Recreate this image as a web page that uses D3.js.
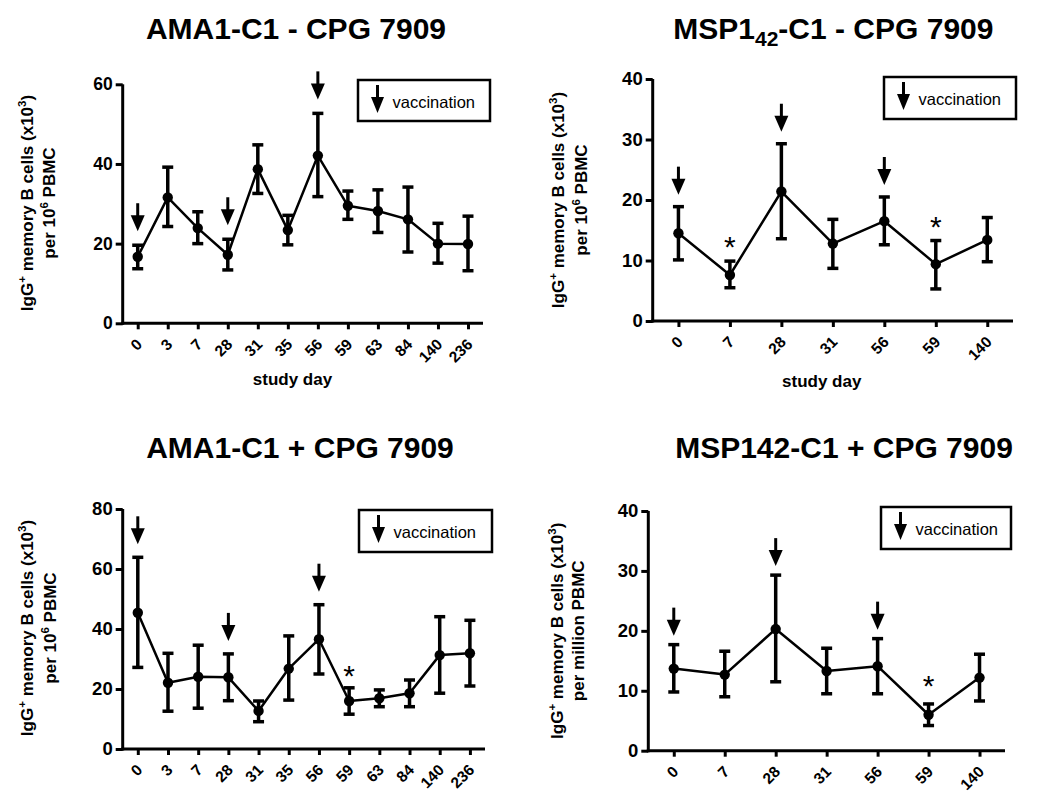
<!DOCTYPE html>
<html>
<head>
<meta charset="utf-8">
<script src="https://cdn.jsdelivr.net/npm/d3@7"></script>
<style>
  html, body { margin: 0; padding: 0; background: #fff; }
  svg { display: block; }
  text { font-family: "Liberation Sans", Arial, sans-serif; fill: #000; }
</style>
</head>
<body>
<svg id="chart" width="1050" height="799"></svg>
<script>
// ---------------- DATA ----------------
const daysLong  = ["0","3","7","28","31","35","56","59","63","84","140","236"];
const daysShort = ["0","7","28","31","56","59","140"];

// AMA1-C1 - CPG 7909
const amaMinusMean  = [16.7, 31.6, 23.9, 17.2, 38.7, 23.4, 42.1, 29.5, 28.2, 26.1, 20.0, 19.9];
const amaMinusUpper = [19.6, 39.2, 28.0, 21.1, 44.8, 27.1, 52.7, 33.2, 33.5, 34.2, 25.1, 26.9];
const amaMinusLower = [13.7, 24.3, 20.0, 13.4, 32.6, 19.7, 31.8, 26.1, 22.8, 17.9, 15.1, 13.2];
const amaMinusVacc  = ["0","28","56"];
const amaMinusStars = [];

// MSP1-42-C1 - CPG 7909
const mspMinusMean  = [14.5,  7.6, 21.4, 12.8, 16.5,  9.4, 13.4];
const mspMinusUpper = [18.9,  9.9, 29.3, 16.8, 20.5, 13.3, 17.1];
const mspMinusLower = [10.1,  5.5, 13.6,  8.7, 12.6,  5.3,  9.8];
const mspMinusVacc  = ["0","28","56"];
const mspMinusStars = ["7","59"];

// AMA1-C1 + CPG 7909
const amaPlusMean  = [45.4, 22.1, 24.1, 23.9, 12.7, 26.8, 36.6, 16.0, 16.9, 18.6, 31.3, 31.9];
const amaPlusUpper = [63.9, 31.9, 34.6, 31.7, 16.0, 37.7, 48.1, 20.4, 19.7, 23.0, 44.1, 42.9];
const amaPlusLower = [27.2, 12.6, 13.6, 16.1,  9.1, 16.3, 25.0, 11.6, 14.1, 14.1, 18.6, 21.0];
const amaPlusVacc  = ["0","28","56"];
const amaPlusStars = ["59"];

// MSP142-C1 + CPG 7909
const mspPlusMean  = [13.7, 12.7, 20.3, 13.3, 14.1,  6.0, 12.2];
const mspPlusUpper = [17.7, 16.6, 29.3, 17.1, 18.7,  7.8, 16.1];
const mspPlusLower = [ 9.8,  9.0, 11.5,  9.5,  9.5,  4.2,  8.3];
const mspPlusVacc  = ["0","28","56"];
const mspPlusStars = ["59"];

const yTicksA = [0, 20, 40, 60];
const yTicksB = [0, 10, 20, 30, 40];
const yTicksC = [0, 20, 40, 60, 80];
const yTicksD = [0, 10, 20, 30, 40];

const legendLabel = "vaccination";
const xAxisTitle = "study day";

// ---------------- PANELS (layout) ----------------
const panels = [
  { title: [["AMA1-C1 - CPG 7909", null]], titleX: 296, titleY: 38.5, titleAnchor: "middle",
    days: daysLong, mean: amaMinusMean, upper: amaMinusUpper, lower: amaMinusLower,
    vacc: amaMinusVacc, stars: amaMinusStars, yTicks: yTicksA,
    x0: 122.7, x1: 483, yBottom: 323.3, yTop: 84.3,
    yTitle2: "PBMC", yTitle2Pre: "per 10", yTitle2Sup: "6",
    yTitleCy: 203, yTitleB1: 33, yTitleB2: 55, yFont: 17.5,
    legend: { x: 358, y: 80, w: 132, h: 41 },
    arrowGap: 14, starGap: 21, xTitle: { x: 292.5, y: 385 } },
  { title: [["MSP1", null], ["42", "sub"], ["-C1 - CPG 7909", "back"]], titleX: 673.3, titleY: 38.5, titleAnchor: "start",
    days: daysShort, mean: mspMinusMean, upper: mspMinusUpper, lower: mspMinusLower,
    vacc: mspMinusVacc, stars: mspMinusStars, yTicks: yTicksB,
    x0: 652.7, x1: 1013, yBottom: 321, yTop: 79,
    yTitle2: "PBMC", yTitle2Pre: "per 10", yTitle2Sup: "6",
    yTitleCy: 200, yTitleB1: 563.5, yTitleB2: 587, yFont: 18.5,
    legend: { x: 884, y: 77, w: 132, h: 42 },
    arrowGap: 12, starGap: 21, xTitle: { x: 821.7, y: 386.7 } },
  { title: [["AMA1-C1 + CPG 7909", null]], titleX: 300, titleY: 458.3, titleAnchor: "middle",
    days: daysLong, mean: amaPlusMean, upper: amaPlusUpper, lower: amaPlusLower,
    vacc: amaPlusVacc, stars: amaPlusStars, yTicks: yTicksC,
    x0: 122.7, x1: 485, yBottom: 749, yTop: 509,
    yTitle2: "PBMC", yTitle2Pre: "per 10", yTitle2Sup: "6",
    yTitleCy: 628, yTitleB1: 32.5, yTitleB2: 56, yFont: 18.5,
    legend: { x: 359, y: 510, w: 133, h: 42 },
    arrowGap: 13, starGap: 19, xTitle: null },
  { title: [["MSP142-C1 + CPG 7909", null]], titleX: 844, titleY: 458.3, titleAnchor: "middle",
    days: daysShort, mean: mspPlusMean, upper: mspPlusUpper, lower: mspPlusLower,
    vacc: mspPlusVacc, stars: mspPlusStars, yTicks: yTicksD,
    x0: 648.3, x1: 1005, yBottom: 750.7, yTop: 511,
    yTitle2: "per million PBMC", yTitle2Pre: null, yTitle2Sup: null,
    yTitleCy: 630.8, yTitleB1: 563, yTitleB2: 583.5, yFont: 18.5,
    legend: { x: 881, y: 507, w: 130, h: 42 },
    arrowGap: 9, starGap: 25, xTitle: null }
];

const svg = d3.select("#chart");
svg.append("rect").attr("width", 1050).attr("height", 799).attr("fill", "#fff");

function drawArrow(g, x, tipY, len, headH, headW) {
  g.append("line")
    .attr("x1", x).attr("x2", x)
    .attr("y1", tipY - len).attr("y2", tipY - headH + 1)
    .attr("stroke", "#000").attr("stroke-width", 3);
  g.append("path")
    .attr("d", `M${x - headW / 2},${tipY - headH} L${x + headW / 2},${tipY - headH} L${x},${tipY} Z`)
    .attr("fill", "#000");
}

panels.forEach(p => {
  const g = svg.append("g");
  const x = d3.scalePoint().domain(p.days).range([p.x0, p.x1]).padding(0.5);
  const yMax = p.yTicks[p.yTicks.length - 1];
  const y = d3.scaleLinear().domain([0, yMax]).range([p.yBottom, p.yTop]);

  // title
  const t = g.append("text")
    .attr("x", p.titleX).attr("y", p.titleY)
    .attr("text-anchor", p.titleAnchor)
    .attr("font-size", 30).attr("font-weight", "bold");
  p.title.forEach(([s, mode]) => {
    const ts = t.append("tspan").text(s);
    if (mode === "sub") ts.attr("font-size", 21).attr("dy", 7);
    if (mode === "back") ts.attr("dy", -7);
  });

  // axes
  const xAxis = d3.axisBottom(x).tickSize(6).tickSizeOuter(0);
  const yAxis = d3.axisLeft(y).tickValues(p.yTicks).tickSize(7).tickSizeOuter(0).tickPadding(3);

  const gx = g.append("g").attr("transform", `translate(0,${p.yBottom})`).call(xAxis);
  gx.attr("font-size", null).attr("font-family", null);
  gx.select(".domain").attr("stroke-width", 3).attr("d", `M${p.x0 - 1.5},0H${p.x1}`);
  gx.selectAll(".tick line").attr("stroke-width", 3);
  gx.selectAll(".tick text")
    .attr("x", 0).attr("y", 0).attr("dy", null)
    .attr("text-anchor", "end")
    .attr("transform", "translate(5,22) rotate(-45)")
    .style("font-size", "15.5px").style("font-weight", "bold")
    .attr("fill", "#000");

  const gy = g.append("g").attr("transform", `translate(${p.x0},0)`).call(yAxis);
  gy.attr("font-size", null).attr("font-family", null);
  gy.select(".domain").attr("stroke-width", 3).attr("d", `M0,${p.yBottom + 1.5}V${p.yTop}`);
  gy.selectAll(".tick line").attr("stroke-width", 3);
  gy.selectAll(".tick text")
    .style("font-size", p.yFont + "px").style("font-weight", "bold")
    .attr("fill", "#000");

  // y-axis title
  const yt = g.append("g").attr("transform", `translate(0,${p.yTitleCy}) rotate(-90)`);
  const l1 = yt.append("text").attr("x", 0).attr("y", p.yTitleB1)
    .attr("text-anchor", "middle").attr("font-size", 17).attr("font-weight", "bold");
  l1.append("tspan").text("IgG");
  l1.append("tspan").text("+").attr("font-size", 11.5).attr("dy", -7);
  l1.append("tspan").text(" memory B cells (x10").attr("dy", 7);
  l1.append("tspan").text("3").attr("font-size", 11.5).attr("dy", -7);
  l1.append("tspan").text(")").attr("dy", 7);
  const l2 = yt.append("text").attr("x", 0).attr("y", p.yTitleB2)
    .attr("text-anchor", "middle").attr("font-size", 17).attr("font-weight", "bold");
  if (p.yTitle2Pre) {
    l2.append("tspan").text(p.yTitle2Pre);
    l2.append("tspan").text(p.yTitle2Sup).attr("font-size", 11.5).attr("dy", -7);
    l2.append("tspan").text(" " + p.yTitle2).attr("dy", 7);
  } else {
    l2.text(p.yTitle2);
  }

  // x-axis title
  if (p.xTitle) {
    g.append("text").attr("x", p.xTitle.x).attr("y", p.xTitle.y)
      .attr("text-anchor", "middle").attr("font-size", 17).attr("font-weight", "bold")
      .text(xAxisTitle);
  }

  // data line
  const pts = p.days.map((d, i) => ({ d, m: p.mean[i], u: p.upper[i], l: p.lower[i] }));
  g.append("path").datum(pts)
    .attr("fill", "none").attr("stroke", "#000").attr("stroke-width", 2.5)
    .attr("stroke-linejoin", "round")
    .attr("d", d3.line().x(v => x(v.d)).y(v => y(v.m)));

  // error bars
  const eb = g.append("g").selectAll("g").data(pts).join("g");
  eb.append("line")
    .attr("x1", v => x(v.d)).attr("x2", v => x(v.d))
    .attr("y1", v => y(v.l)).attr("y2", v => y(v.u))
    .attr("stroke", "#000").attr("stroke-width", 3.5);
  eb.append("line")
    .attr("x1", v => x(v.d) - 5.5).attr("x2", v => x(v.d) + 5.5)
    .attr("y1", v => y(v.u)).attr("y2", v => y(v.u))
    .attr("stroke", "#000").attr("stroke-width", 3.5);
  eb.append("line")
    .attr("x1", v => x(v.d) - 5.5).attr("x2", v => x(v.d) + 5.5)
    .attr("y1", v => y(v.l)).attr("y2", v => y(v.l))
    .attr("stroke", "#000").attr("stroke-width", 3.5);
  eb.append("circle")
    .attr("cx", v => x(v.d)).attr("cy", v => y(v.m)).attr("r", 5.2)
    .attr("fill", "#000");

  // vaccination arrows
  p.vacc.forEach(d => {
    const i = p.days.indexOf(d);
    const tip = y(p.upper[i]) - p.arrowGap;
    drawArrow(g, x(d), tip, 28, 16, 14);
  });

  // significance stars
  p.stars.forEach(d => {
    const i = p.days.indexOf(d);
    const cy = y(p.upper[i]) - p.starGap;
    g.append("text").attr("x", x(d)).attr("y", cy + 17)
      .attr("text-anchor", "middle").attr("font-size", 30)
      .text("*");
  });

  // legend
  const L = p.legend;
  g.append("rect").attr("x", L.x).attr("y", L.y).attr("width", L.w).attr("height", L.h)
    .attr("fill", "#fff").attr("stroke", "#000").attr("stroke-width", 2.5);
  drawArrow(g, L.x + 19.5, L.y + 33, 28, 16, 13);
  g.append("text").attr("x", L.x + 34.5).attr("y", L.y + 28)
    .attr("font-size", 16.5).text(legendLabel);
});
</script>
</body>
</html>
